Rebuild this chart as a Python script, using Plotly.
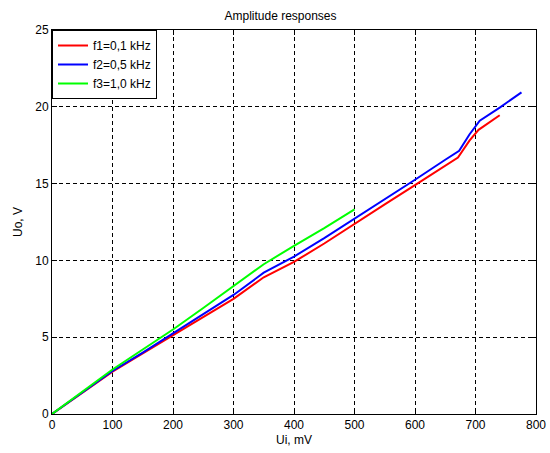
import plotly.graph_objects as go

# Data
red_x = [0, 50, 100, 150, 200, 250, 300, 350, 400, 450, 500, 550, 600, 650, 671, 690, 705, 740]
red_y = [0, 1.4, 2.75, 3.95, 5.15, 6.3, 7.5, 8.9, 9.9, 11.1, 12.4, 13.65, 14.9, 16.15, 16.7, 17.8, 18.5, 19.45]

blue_x = [0, 50, 100, 150, 200, 250, 300, 350, 400, 450, 500, 550, 600, 650, 673, 690, 707, 740, 776]
blue_y = [0, 1.4, 2.8, 4.0, 5.25, 6.45, 7.75, 9.2, 10.25, 11.45, 12.7, 13.95, 15.25, 16.55, 17.13, 18.2, 19.1, 19.95, 20.94]

green_x = [0, 50, 100, 150, 200, 250, 300, 350, 400, 450, 500]
green_y = [0, 1.45, 2.9, 4.2, 5.5, 6.9, 8.3, 9.75, 10.95, 12.1, 13.32]

series_names = ["f1=0,1 kHz", "f2=0,5 kHz", "f3=1,0 kHz"]
x_ticks = [0, 100, 200, 300, 400, 500, 600, 700, 800]
y_ticks = [0, 5, 10, 15, 20, 25]

fig = go.Figure()
for xs, ys, name, color in [
    (red_x, red_y, series_names[0], "#ff0000"),
    (blue_x, blue_y, series_names[1], "#0000ff"),
    (green_x, green_y, series_names[2], "#00ff00"),
]:
    fig.add_trace(go.Scatter(x=xs, y=ys, mode="lines", name=name,
                             line=dict(color=color, width=2)))

axis_common = dict(
    showline=True, linecolor="black", linewidth=1, mirror="ticks",
    ticks="inside", ticklen=5, tickcolor="black",
    showgrid=True, gridcolor="black", griddash="4px,3px", gridwidth=1,
    zeroline=False, tickfont=dict(size=12, color="black"), automargin=False,
)

fig.update_layout(
    width=550, height=453,
    margin=dict(l=52, r=14, t=30, b=39),
    paper_bgcolor="white", plot_bgcolor="white",
    font=dict(family="Liberation Sans, Arial, sans-serif", size=12, color="black"),
    title=dict(text="Amplitude responses", x=0.51, xanchor="center", y=0.965, yanchor="middle",
               font=dict(size=12, color="black"), automargin=False),
    xaxis=dict(range=[0, 800], tickvals=x_ticks,
               title=dict(text="Ui, mV", standoff=4, font=dict(size=12)), **axis_common),
    yaxis=dict(range=[0, 25], tickvals=y_ticks,
               title=dict(text="Uo, V", standoff=10, font=dict(size=12)), **axis_common),
    legend=dict(x=0, y=1, xanchor="left", yanchor="top", bgcolor="white",
                bordercolor="black", borderwidth=1, font=dict(size=12),
                tracegroupgap=0, itemwidth=30),
    showlegend=True,
)

fig.write_html("out.html", config={"displayModeBar": False},
               post_script="document.body.style.margin='0';")
